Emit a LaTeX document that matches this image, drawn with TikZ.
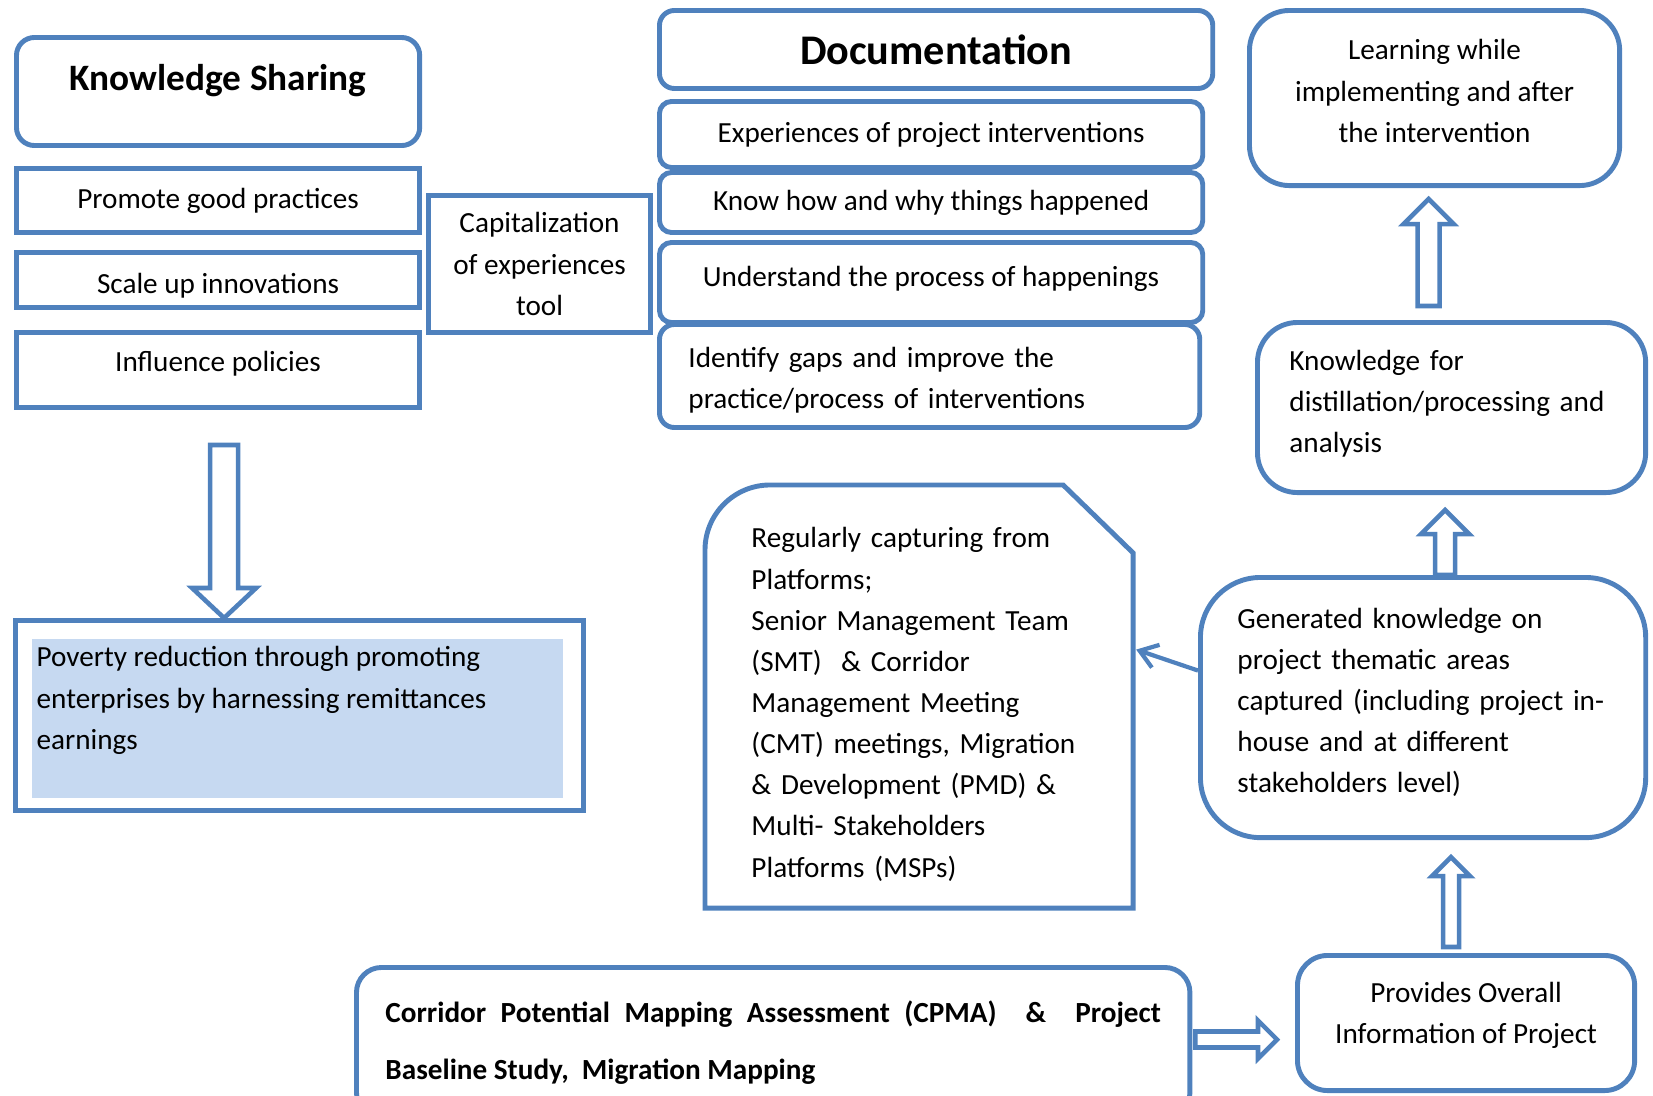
\documentclass[tikz,border=0pt]{standalone}
\usepackage{fontspec}
\setmainfont{Carlito}
\usetikzlibrary{calc,arrows.meta}
\definecolor{kblue}{HTML}{4F81BD}
\definecolor{povblue}{HTML}{C6D9F1}
\newcommand{\txtfont}{\fontsize{8.3}{11.7}\selectfont}
\newcommand{\addht}[1]{\rule{0pt}{#1}}
\newcommand{\adddp}[1]{\rule[-#1]{0pt}{#1}}
\newcommand{\nudge}[2]{\raisebox{#1}[\height][\depth]{#2}}
% hollow block arrow: from, to, shaft half width, head half width, head length
\newcommand{\blkarrow}[5]{%
  \coordinate (hb) at ($(#2)!#5!(#1)$);
  \draw[blkarr] ($(#1)!#3!90:(#2)$) -- ($(hb)!#3!90:(#2)$) -- ($(hb)!#4!90:(#2)$) -- (#2)
    -- ($(hb)!#4!-90:(#2)$) -- ($(hb)!#3!-90:(#2)$) -- ($(#1)!#3!-90:(#2)$) -- cycle;}
\tikzset{
  box/.style={draw=kblue, line width=1.4pt, inner sep=0pt, anchor=north west, font=\txtfont},
  rbox/.style={box, rounded corners=#1},
  blkarr/.style={draw=kblue, line width=1.3pt, fill=white},
  conn/.style={draw=kblue, line width=1.2pt, -{Straight Barb[length=1.7mm,width=2.4mm]}}
}
\begin{document}
\begin{tikzpicture}[x=0.01cm, y=-0.01cm]
  \useasboundingbox (0,0) rectangle (1653,1096);
  % Knowledge sharing column
  \node[rbox=1.8mm, minimum width=4.03cm, minimum height=1.08cm, font=\fontsize{10.6}{13}\selectfont\bfseries] (ks) at (14,35) {\raisebox{0.29cm}{Knowledge Sharing}};
  \node[box, minimum width=4.03cm, minimum height=0.64cm] (prom) at (14,166) {Promote good practices};
  \node[box, minimum width=4.03cm, minimum height=0.55cm] (scal) at (14,250) {\nudge{-0.055cm}{Scale up innovations}};
  \node[box, minimum width=4.03cm, minimum height=0.75cm] (infl) at (14,330) {\raisebox{0.18cm}{Influence policies}};
  \node[box, minimum width=2.22cm, minimum height=1.37cm, align=center] (cap) at (426,193) {Capitalization\\of experiences\\tool};
  % Documentation column
  \node[rbox=1.5mm, minimum width=5.53cm, minimum height=0.78cm, font=\fontsize{12}{14}\selectfont\bfseries] (doc) at (657,8) {\raisebox{-0.02cm}{Documentation}};
  \node[rbox=1.2mm, minimum width=5.43cm, minimum height=0.66cm] (exp) at (657,99) {Experiences of project interventions};
  \node[rbox=1.2mm, minimum width=5.43cm, minimum height=0.60cm] (know) at (657,170) {\raisebox{-0.02cm}{Know how and why things happened}};
  \node[rbox=1.2mm, minimum width=5.43cm, minimum height=0.80cm] (und) at (657,240) {\nudge{0.04cm}{Understand the process of happenings}};
  \node[rbox=1.5mm, minimum width=5.40cm, minimum height=1.03cm, text width=4.82cm, align=left] (idg) at (657,322) {\addht{8pt}Identify gaps and improve the\\practice/process of interventions};
  % Right column
  \node[rbox=4mm, minimum width=3.70cm, minimum height=1.75cm, align=center] (learn) at (1247,8) {Learning while\\implementing and after\\the intervention\adddp{4pt}};
  \node[rbox=4mm, minimum width=3.88cm, minimum height=1.70cm, text width=3.24cm, align=left] (kfor) at (1255,320) {Knowledge for\\distillation/processing and\\analysis\adddp{3.7pt}};
  \node[rbox=6mm, minimum width=4.45cm, minimum height=2.60cm, text width=3.71cm, align=left] (gen) at (1198,575) {Generated knowledge on\\project thematic areas\\captured (including project in-\\house and at different\\stakeholders level)\adddp{4pt}};
  \node[rbox=3mm, minimum width=3.37cm, minimum height=1.35cm, align=center] (prov) at (1295,953) {Provides Overall\\Information of Project\adddp{5.7pt}};
  % Baseline studies
  \node[rbox=2.5mm, minimum width=8.33cm, minimum height=1.50cm, text width=7.75cm, align=justify, font=\fontsize{8.3}{16.2}\selectfont\bfseries] (cpma) at (354,965) {Corridor Potential Mapping Assessment (CPMA) \ \& \ Project\linebreak Baseline Study,\ \ Migration Mapping};
  % Platforms (snipped corner)
  \node[box, draw=none, minimum width=4.23cm, minimum height=4.18cm, text width=3.35cm, align=left] (reg) at (705,485) {\addht{10.2pt}Regularly capturing from\\Platforms;\\Senior Management Team\\(SMT)\ \ \& Corridor\\Management Meeting\\(CMT) meetings, Migration\\\& Development (PMD) \&\\Multi- Stakeholders\\Platforms (MSPs)};
  \draw[draw=kblue, line width=1.4pt] (reg.south west) -- ($(reg.north west)+(0,65)$) arc[start angle=180, end angle=90, radius=0.65cm]
    -- ($(reg.north east)+(-70,0)$) -- ($(reg.north east)+(0,68)$) -- (reg.south east) -- cycle;
  % Poverty reduction
  \node[box, minimum width=5.68cm, minimum height=1.90cm] (pov) at (13,618) {};
  \node[anchor=north west, fill=povblue, minimum width=5.31cm, minimum height=1.59cm, inner sep=0pt] (povf) at (31,638) {};
  \node[anchor=north west, font=\txtfont, align=left, inner sep=0pt] (povt) at (36,646) {Poverty reduction through promoting\\enterprises by harnessing remittances\\earnings};
  % Arrows
  \coordinate (a1s) at ($(infl.south)+(6,35)$);
  \coordinate (a1e) at (a1s |- pov.north);
  \blkarrow{a1s}{a1e}{0.14cm}{0.32cm}{0.30cm}
  \coordinate (a2s) at ($(kfor.north)+(-23,-14)$);
  \coordinate (a2e) at ($(learn.south)+(-6,11)$);
  \blkarrow{a2s}{a2e}{0.11cm}{0.25cm}{0.25cm}
  \coordinate (a3s) at ($(gen.north)+(22,0)$);
  \coordinate (a3e) at ($(a3s |- kfor.south)+(0,15)$);
  \blkarrow{a3s}{a3e}{0.10cm}{0.24cm}{0.24cm}
  \coordinate (a4s) at ($(prov.north)+(-15,-6)$);
  \coordinate (a4e) at ($(a4s |- gen.south)+(0,17)$);
  \blkarrow{a4s}{a4e}{0.08cm}{0.19cm}{0.19cm}
  \coordinate (a5s) at ($(cpma.east)+(3,-3)$);
  \coordinate (a5e) at ($(a5s -| prov.west)+(-18,0)$);
  \blkarrow{a5s}{a5e}{0.08cm}{0.19cm}{0.19cm}
  \draw[conn] ($(gen.west)+(0,-37)$) -- ($(reg.east)+(3,-47)$);
\end{tikzpicture}
\end{document}
